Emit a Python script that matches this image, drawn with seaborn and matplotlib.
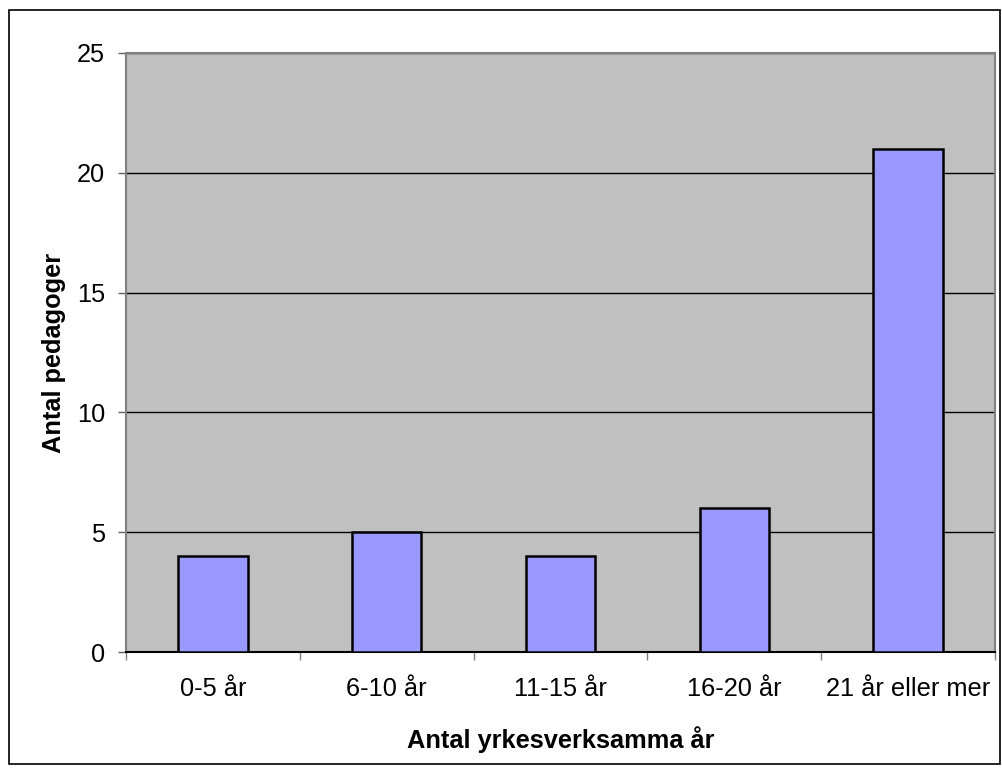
import matplotlib
matplotlib.use("Agg")
import matplotlib.pyplot as plt
from matplotlib.patches import Rectangle
from matplotlib.ticker import FixedLocator
import seaborn as sns
import pandas as pd

categories = ["0-5 år", "6-10 år", "11-15 år", "16-20 år", "21 år eller mer"]
counts = [4, 5, 4, 6, 21]
y_ticks = [0, 5, 10, 15, 20, 25]

sns.set_theme(style="white")
plt.rcParams["font.family"] = ["Liberation Sans", "DejaVu Sans"]
plt.rcParams["text.color"] = "black"
plt.rcParams["axes.labelcolor"] = "black"

df = pd.DataFrame({"kategori": categories, "antal": counts})

fig = plt.figure(figsize=(10.03, 7.69), dpi=100)
ax = fig.add_axes([126 / 1003, 1 - 652 / 769, (995 - 126) / 1003, (652 - 53) / 769])
ax.set_facecolor("#C0C0C0")

sns.barplot(data=df, x="kategori", y="antal", ax=ax, color="#9999FF",
            saturation=1, width=0.4, edgecolor="black", linewidth=1.8, zorder=3)

ax.set_ylim(0, 25)
ax.set_xlim(-0.5, len(categories) - 0.5)
ax.set_yticks(y_ticks)
ax.yaxis.grid(True, color="black", linewidth=1.0, zorder=1)
ax.set_axisbelow(True)

fs = 18.3
# category labels centered, tick marks between categories
ax.tick_params(axis="x", which="major", length=0, pad=18, labelsize=fs, labelcolor="black")
ax.xaxis.set_minor_locator(FixedLocator([i - 0.5 for i in range(len(categories) + 1)]))
ax.tick_params(axis="x", which="minor", length=6, width=1, color="#808080", bottom=True)
ax.tick_params(axis="y", which="major", length=6, width=1, color="#606060", left=True,
               labelsize=fs, pad=9, labelcolor="black")

for side in ["left", "right", "top"]:
    ax.spines[side].set_color("#808080")
    ax.spines[side].set_linewidth(1.5)
ax.spines["bottom"].set_color("black")
ax.spines["bottom"].set_linewidth(1.5)

ax.set_xlabel("Antal yrkesverksamma år", fontsize=fs, fontweight="bold", labelpad=18)
ax.set_ylabel("Antal pedagoger", fontsize=fs, fontweight="bold", labelpad=8)

# outer chart border
fig.patches.append(Rectangle((9 / 1003, 1 - 764 / 769), (1000 - 9) / 1003, (764 - 10) / 769,
                             transform=fig.transFigure, fill=False, edgecolor="black",
                             linewidth=1.2))

fig.savefig("out.png", dpi=100, facecolor="white")
